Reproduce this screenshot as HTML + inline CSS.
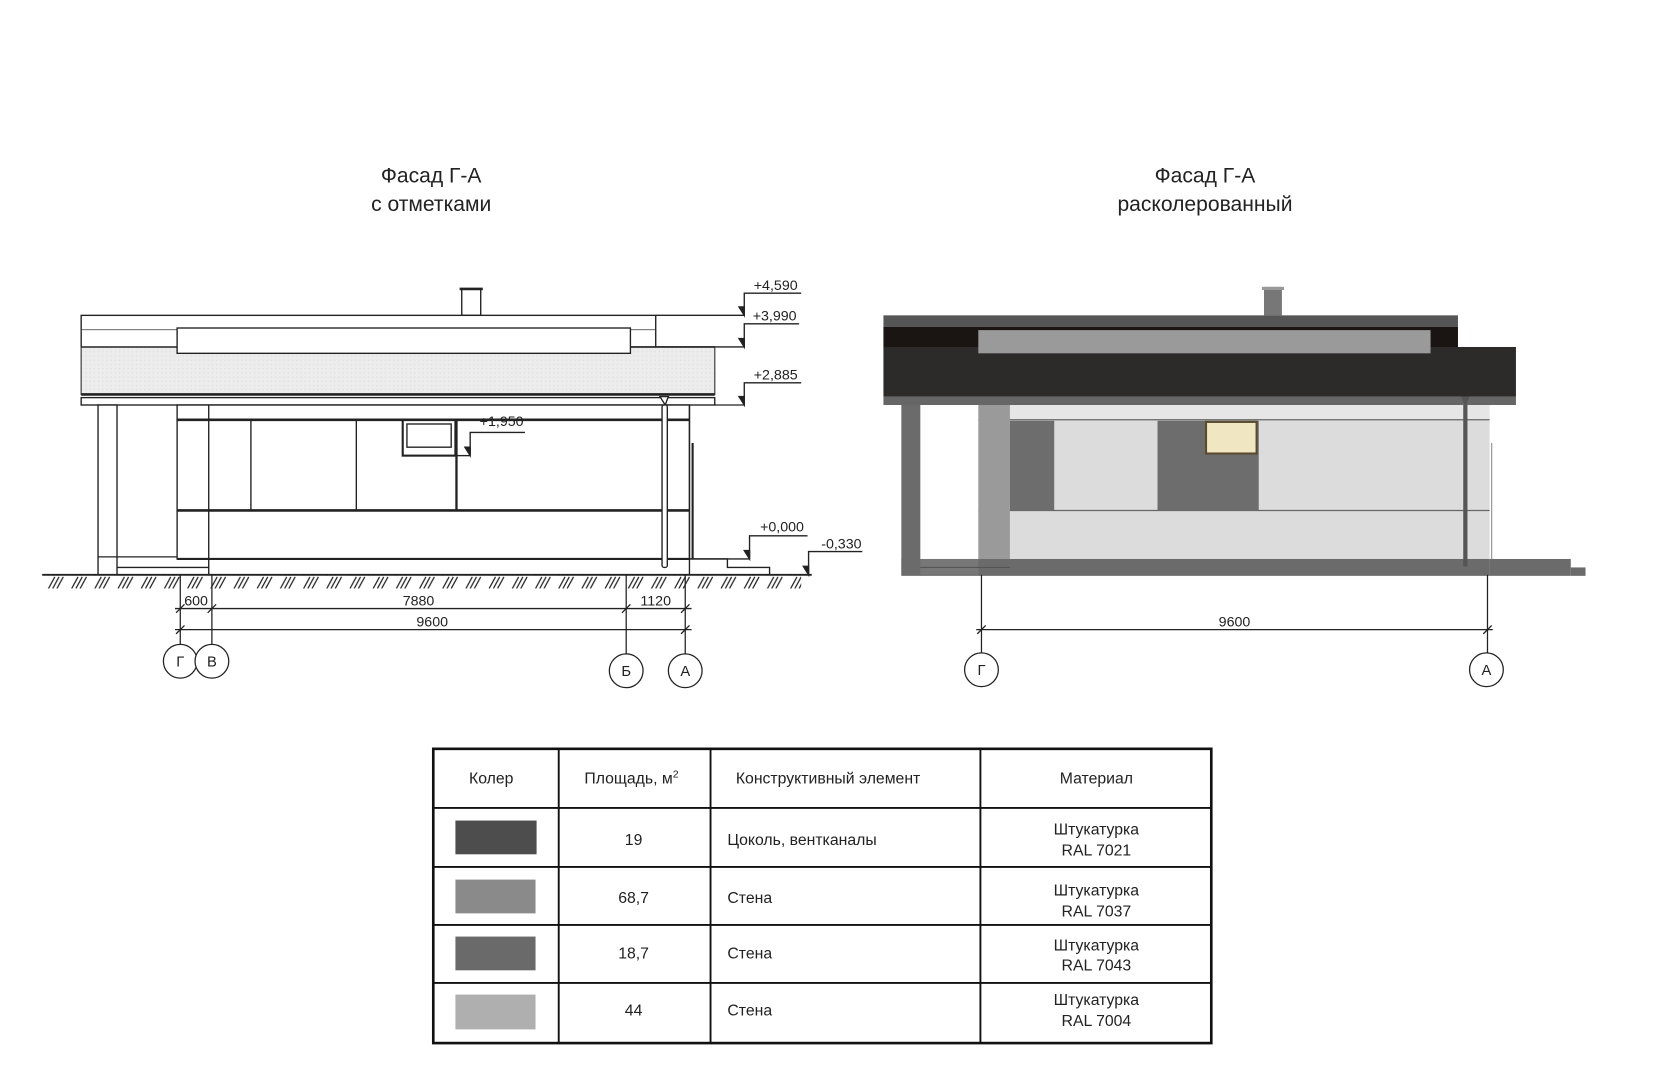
<!DOCTYPE html>
<html><head><meta charset="utf-8"><style>
html,body{margin:0;padding:0;background:#fff;}
svg{display:block;}
text{font-family:"Liberation Sans Narrow","Liberation Sans","DejaVu Sans",sans-serif;fill:#222;}
</style></head><body>
<svg width="1653" height="1080" viewBox="0 0 1568 1024" preserveAspectRatio="none" xmlns="http://www.w3.org/2000/svg">
<defs>
<pattern id="h" x="0" y="546" width="22" height="12" patternUnits="userSpaceOnUse">
<path d="M2 12 L8 1 M6 12 L12 1 M10 12 L16 1" stroke="#222" stroke-width="1.2"/>
</pattern>
<pattern id="dots" width="4" height="4" patternUnits="userSpaceOnUse">
<rect width="4" height="4" fill="#ececec"/><rect x="1" y="1" width="1" height="1" fill="#d8d8d8"/>
</pattern>
</defs>
<rect width="1568" height="1024" fill="#fff"/>

<!-- Titles -->
<g font-size="20" text-anchor="middle">
<text x="409" y="173">Фасад Г-А</text>
<text x="409" y="200">с отметками</text>
<text x="1143" y="173">Фасад Г-А</text>
<text x="1143" y="200">расколерованный</text>
</g>

<!-- LEFT DRAWING -->
<g stroke="#222" fill="none" stroke-width="1.3">
<rect x="438" y="274" width="18" height="25" fill="#fff"/>
<line x1="436" y1="274" x2="458" y2="274" stroke-width="2.5"/>
<rect x="77" y="299" width="545" height="14" fill="#fff"/>
<rect x="77" y="329" width="601" height="45" fill="url(#dots)" stroke="#555"/>
<rect x="77" y="313" width="545" height="16" fill="#fff" stroke="none"/>
<line x1="77" y1="313" x2="77" y2="329"/>
<line x1="622" y1="313" x2="622" y2="329"/>
<line x1="77" y1="329" x2="168" y2="329"/>
<line x1="598" y1="329" x2="678" y2="329"/>
<rect x="168" y="311" width="430" height="24" fill="#fff"/>
<line x1="77" y1="374" x2="678" y2="374" stroke-width="2.5"/>
<rect x="77" y="377" width="601" height="7" fill="#fff"/>
<rect x="93" y="384" width="18" height="161" fill="#fff"/>
<line x1="93" y1="528" x2="168" y2="528"/>
<line x1="111" y1="538" x2="198" y2="538"/>
<rect x="168" y="384" width="486" height="146" fill="#fff"/>
<line x1="198" y1="384" x2="198" y2="545"/>
<line x1="168" y1="398" x2="654" y2="398" stroke-width="2.5"/>
<line x1="168" y1="484" x2="654" y2="484" stroke-width="2.5"/>
<line x1="238" y1="398" x2="238" y2="484"/>
<line x1="338" y1="398" x2="338" y2="484"/>
<line x1="433" y1="398" x2="433" y2="484" stroke-width="2.2"/>
<rect x="382" y="398" width="50" height="34" stroke-width="2"/>
<rect x="386" y="402" width="42" height="22"/>
<line x1="168" y1="530" x2="654" y2="530" stroke-width="2"/>
<line x1="654" y1="384" x2="654" y2="545"/>
<line x1="657" y1="420" x2="657" y2="530" stroke-width="2"/>
<path d="M626 376 L634 376 L631 384 Z" fill="#fff"/>
<rect x="628" y="384" width="5" height="154" rx="2" fill="#fff"/>
<polyline points="654,530 690,530 690,538 730,538 730,545"/>
<line x1="40" y1="545" x2="770" y2="545" stroke-width="1.8"/>
</g>
<rect x="40" y="546" width="720" height="12" fill="url(#h)"/>

<!-- level marks -->
<g stroke="#222" stroke-width="1.3" fill="#222">
<line x1="622" y1="299" x2="706" y2="299"/>
<line x1="598" y1="329" x2="706" y2="329"/>
<line x1="678" y1="384" x2="706" y2="384"/>
<line x1="432" y1="432" x2="446" y2="432"/>
<line x1="654" y1="530" x2="711" y2="530"/>
<line x1="730" y1="545" x2="767" y2="545"/>
<polyline fill="none" points="706,299 706,278 760,278"/><path d="M701 291 L706 291 L706 299 Z"/>
<polyline fill="none" points="706,329 706,307 758,307"/><path d="M701 321 L706 321 L706 329 Z"/>
<polyline fill="none" points="706,384 706,363 760,363"/><path d="M701 376 L706 376 L706 384 Z"/>
<polyline fill="none" points="446,432 446,410 498,410"/><path d="M441 424 L446 424 L446 432 Z"/>
<polyline fill="none" points="711,530 711,508 766,508"/><path d="M706 522 L711 522 L711 530 Z"/>
<polyline fill="none" points="767,545 767,523 818,523"/><path d="M762 537 L767 537 L767 545 Z"/>
</g>
<g font-size="13.5">
<text x="715" y="275">+4,590</text>
<text x="714" y="304">+3,990</text>
<text x="715" y="360">+2,885</text>
<text x="455" y="404">+1,950</text>
<text x="721" y="504">+0,000</text>
<text x="779" y="520">-0,330</text>
</g>

<!-- left dims -->
<g stroke="#222" stroke-width="1.2" fill="none">
<line x1="171" y1="545" x2="171" y2="611"/>
<line x1="201" y1="545" x2="201" y2="611"/>
<line x1="594" y1="545" x2="594" y2="620"/>
<line x1="650" y1="545" x2="650" y2="620"/>
<line x1="166" y1="577" x2="656" y2="577"/>
<line x1="166" y1="597" x2="656" y2="597"/>
<path d="M167 581 L175 573 M197 581 L205 573 M590 581 L598 573 M646 581 L654 573 M167 601 L175 593 M646 601 L654 593"/>
<circle cx="171" cy="627" r="16" fill="#fff"/>
<circle cx="201" cy="627" r="16" fill="#fff"/>
<circle cx="594" cy="636" r="16"/>
<circle cx="650" cy="636" r="16"/>
</g>
<g font-size="13.5" text-anchor="middle">
<text x="186" y="574">600</text>
<text x="397" y="574">7880</text>
<text x="622" y="574">1120</text>
<text x="410" y="594">9600</text>
<text x="171" y="632" font-size="14">Г</text>
<text x="201" y="632" font-size="14">В</text>
<text x="594" y="641" font-size="14">Б</text>
<text x="650" y="641" font-size="14">А</text>
</g>

<!-- RIGHT DRAWING -->
<rect x="1199" y="272" width="17" height="27" fill="#777"/>
<rect x="1197" y="272" width="21" height="3" fill="#999"/>
<rect x="838" y="299" width="545" height="11" fill="#555"/>
<rect x="838" y="310" width="545" height="20" fill="#1a1512"/>
<rect x="838" y="329" width="600" height="47" fill="#2d2b2a"/>
<rect x="928" y="313" width="429" height="22" fill="#9a9a9a"/>
<rect x="838" y="376" width="600" height="8" fill="#666"/>
<rect x="855" y="384" width="18" height="161" fill="#6b6b6b"/>
<rect x="958" y="384" width="455" height="146" fill="#dcdcdc"/>
<rect x="958" y="384" width="455" height="14" fill="#e6e6e6"/>
<line x1="928" y1="398" x2="1413" y2="398" stroke="#666" stroke-width="1.2"/>
<line x1="928" y1="484" x2="1413" y2="484" stroke="#666" stroke-width="1.2"/>
<rect x="928" y="384" width="30" height="161" fill="#9a9a9a"/>
<rect x="958" y="399" width="42" height="85" fill="#6d6d6d"/>
<rect x="1098" y="399" width="96" height="85" fill="#6d6d6d"/>
<rect x="1144" y="400" width="48" height="30" fill="#f1e6c2" stroke="#5a4a30" stroke-width="2"/>
<rect x="855" y="530" width="558" height="16" fill="#6b6b6b"/>
<rect x="873" y="530" width="55" height="15" fill="#777"/>
<line x1="873" y1="538" x2="958" y2="538" stroke="#555"/>
<rect x="1413" y="530" width="77" height="16" fill="#6b6b6b"/>
<rect x="1490" y="538" width="14" height="8" fill="#6b6b6b"/>
<line x1="1415" y1="420" x2="1415" y2="530" stroke="#888"/>
<path d="M1386 376 L1394 376 L1390 386 Z" fill="#555"/>
<rect x="1388" y="384" width="4" height="153" fill="#555"/>

<g stroke="#222" stroke-width="1.2" fill="none">
<line x1="931" y1="545" x2="931" y2="619"/>
<line x1="1411" y1="545" x2="1411" y2="619"/>
<line x1="926" y1="597" x2="1416" y2="597"/>
<path d="M927 601 L935 593 M1407 601 L1415 593"/>
<circle cx="931" cy="635" r="16"/>
<circle cx="1410" cy="635" r="16"/>
</g>
<g font-size="13.5" text-anchor="middle">
<text x="1171" y="594">9600</text>
<text x="931" y="640" font-size="14">Г</text>
<text x="1410" y="640" font-size="14">А</text>
</g>

<!-- TABLE -->
<g stroke="#111" fill="none">
<rect x="411" y="710" width="738" height="279" stroke-width="2.5"/>
<g stroke-width="1.8">
<line x1="530" y1="710" x2="530" y2="989"/>
<line x1="674" y1="710" x2="674" y2="989"/>
<line x1="930" y1="710" x2="930" y2="989"/>
<line x1="411" y1="766" x2="1149" y2="766"/>
<line x1="411" y1="822" x2="1149" y2="822"/>
<line x1="411" y1="877" x2="1149" y2="877"/>
<line x1="411" y1="932" x2="1149" y2="932"/>
</g>
</g>
<rect x="432" y="778" width="77" height="32" fill="#4d4d4d"/>
<rect x="432" y="834" width="76" height="32" fill="#8a8a8a"/>
<rect x="432" y="888" width="76" height="32" fill="#6a6a6a"/>
<rect x="432" y="943" width="76" height="33" fill="#afafaf"/>
<g font-size="15">
<text x="466" y="743" text-anchor="middle">Колер</text>
<text x="599" y="743" text-anchor="middle">Площадь, м<tspan font-size="10" dy="-6">2</tspan></text>
<text x="698" y="743">Конструктивный элемент</text>
<text x="1040" y="743" text-anchor="middle">Материал</text>
<text x="601" y="801" text-anchor="middle">19</text>
<text x="601" y="856" text-anchor="middle">68,7</text>
<text x="601" y="909" text-anchor="middle">18,7</text>
<text x="601" y="963" text-anchor="middle">44</text>
<text x="690" y="801">Цоколь, вентканалы</text>
<text x="690" y="856">Стена</text>
<text x="690" y="909">Стена</text>
<text x="690" y="963">Стена</text>
<g text-anchor="middle">
<text x="1040" y="791">Штукатурка</text><text x="1040" y="811">RAL 7021</text>
<text x="1040" y="849">Штукатурка</text><text x="1040" y="869">RAL 7037</text>
<text x="1040" y="901">Штукатурка</text><text x="1040" y="920">RAL 7043</text>
<text x="1040" y="953">Штукатурка</text><text x="1040" y="973">RAL 7004</text>
</g>
</g>
</svg>
</body></html>
